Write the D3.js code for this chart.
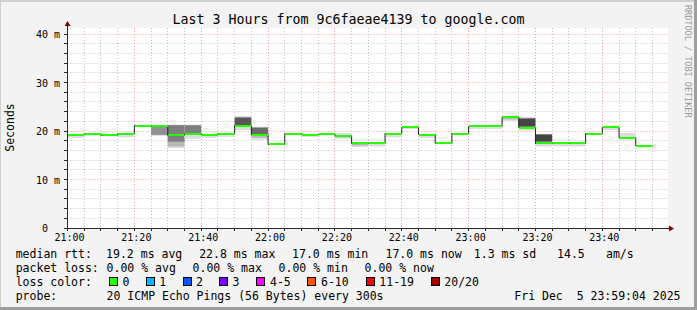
<!DOCTYPE html>
<html>
<head>
<meta charset="utf-8">
<script src="https://cdn.jsdelivr.net/npm/d3@7"></script>
<style>
    body { margin: 0; background: #fff; }
    svg text { font-family: "DejaVu Sans Mono", monospace; white-space: pre; fill: #000; }
</style>
</head>
<body>
<div id="chart"></div>
<script>
// values

const stepTimes = ["21:00", "21:05", "21:10", "21:15", "21:20", "21:25", "21:30", "21:35", "21:40", "21:45",
    "21:50", "21:55", "22:00", "22:05", "22:10", "22:15", "22:20", "22:25", "22:30", "22:35",
    "22:40", "22:45", "22:50", "22:55", "23:00", "23:05", "23:10", "23:15", "23:20", "23:25",
    "23:30", "23:35", "23:40", "23:45", "23:50"];

// median rtt per 5 min step (ms)
const median = [19.2, 19.4, 19.1, 19.4, 21.1, 21.0, 19.1, 19.4, 19.2, 19.4,
    21.1, 19.2, 17.3, 19.4, 19.2, 19.3, 19.0, 17.5, 17.5, 19.4,
    20.8, 19.2, 17.5, 19.4, 21.0, 21.0, 22.8, 20.7, 17.5, 17.5,
    17.5, 19.4, 20.8, 18.6, 17.0];

// smoke per step: [low ms, high ms, ping pair depth 1..10]
const smoke = [
    [[18.6, 19.3, 1]],
    [[19.1, 19.5, 1]],
    [[18.9, 19.2, 1]],
    [[18.7, 19.5, 1]],
    [[20.8, 21.3, 1]],
    [[19.0, 21.2, 1], [19.2, 20.9, 5]],
    [[16.5, 21.3, 1], [16.8, 21.2, 3], [17.8, 21.2, 6]],
    [[18.4, 21.3, 1], [19.5, 21.2, 6]],
    [[18.6, 19.3, 1]],
    [[18.8, 19.5, 1]],
    [[20.2, 23.1, 1], [21.1, 22.8, 8]],
    [[18.2, 20.9, 1], [18.6, 20.7, 3], [19.3, 20.7, 7]],
    [[17.2, 17.4, 1]],
    [[19.3, 19.5, 1]],
    [[18.8, 19.3, 1]],
    [[19.1, 19.5, 1]],
    [[18.4, 19.6, 1], [18.7, 19.2, 3]],
    [[16.7, 17.6, 1], [17.0, 17.5, 3]],
    [[16.8, 17.6, 1]],
    [[18.7, 19.5, 1]],
    [[20.4, 20.9, 1]],
    [[18.6, 19.3, 1]],
    [[17.3, 17.6, 1]],
    [[19.2, 19.5, 1]],
    [[20.4, 21.1, 1]],
    [[20.4, 21.1, 1]],
    [[22.1, 23.2, 1], [22.4, 22.9, 3]],
    [[20.1, 22.9, 1], [20.9, 22.6, 9]],
    [[16.8, 19.4, 1], [17.8, 19.3, 9]],
    [[16.8, 17.6, 1]],
    [[16.8, 17.6, 1]],
    [[19.3, 19.5, 1]],
    [[20.2, 21.1, 1]],
    [[18.3, 19.6, 1]],
    [[16.6, 17.1, 1]]
];

const yTicks = [0, 10, 20, 30, 40];
const xTicks = ["21:00", "21:20", "21:40", "22:00", "22:20", "22:40", "23:00", "23:20", "23:40"];

const rttStats = ["19.2 ms avg", "22.8 ms max", "17.0 ms min", "17.0 ms now", "1.3 ms sd", "14.5", "am/s"];
const lossStats = ["0.00 % avg", "0.00 % max", "0.00 % min", "0.00 % now"];
const lossLabels = ["0", "1", "2", "3", "4-5", "6-10", "11-19", "20/20"];
const lossColors = ["#26ff00", "#00b8ff", "#0059ff", "#7e00ff", "#ff00ff", "#ff5500", "#ff0000", "#a10000"];

const title = "Last 3 Hours from 9c6faeae4139 to google.com";
const probeText = "20 ICMP Echo Pings (56 Bytes) every 300s";
const dateText = "Fri Dec  5 23:59:04 2025";

// layout

const width = 697, height = 310;
const plotLeft = 67.5, plotRight = 667.5, plotTop = 28, plotBottom = 228;
const gridMinor = "rgba(143,143,143,0.55)";
const gridMajor = "rgba(232,90,90,0.6)";
const axisColor = "#2a2a2a";
const arrowColor = "#800000";

const parse = d3.timeParse("%H:%M");
const times = stepTimes.map(parse);
const stepMs = 5 * 60 * 1000;

const x = d3.scaleTime()
    .domain([parse("21:00"), new Date(parse("23:59").getTime() + 30000)])
    .range([plotLeft, plotRight]);

const y = d3.scaleLinear()
    .domain([0, 41.24])
    .range([plotBottom, plotTop]);

const crisp = v => Math.round(v - 0.5) + 0.5;

const svg = d3.select("#chart").append("svg")
    .attr("width", width)
    .attr("height", height);

// background + rrdtool shade border
svg.append("rect").attr("width", width).attr("height", height).attr("fill", "#f3f3f3");
svg.append("rect").attr("x", 0).attr("y", 0).attr("width", width).attr("height", 2).attr("fill", "#cfcfcf");
svg.append("rect").attr("x", 0).attr("y", 0).attr("width", 1).attr("height", height).attr("fill", "#cfcfcf");
svg.append("rect").attr("x", 0).attr("y", height - 3).attr("width", width).attr("height", 3).attr("fill", "#9e9e9e");
svg.append("rect").attr("x", width - 3).attr("y", 0).attr("width", 3).attr("height", height).attr("fill", "#9e9e9e");

// canvas
svg.append("rect")
    .attr("x", 67).attr("y", plotTop)
    .attr("width", 601).attr("height", plotBottom - plotTop)
    .attr("fill", "#fff");

const grid = svg.append("g").attr("class", "grid");

const minorY = y.ticks(20).filter(d => d % 10 !== 0);
grid.selectAll(".hminor")
    .data(minorY)
    .join("line")
    .attr("x1", plotLeft).attr("x2", 668)
    .attr("y1", d => crisp(y(d))).attr("y2", d => crisp(y(d)))
    .attr("stroke", gridMinor).attr("stroke-dasharray", "1,2");

const minorX = d3.timeMinute.every(5).range(parse("21:00"), parse("23:59"))
    .filter(d => d.getMinutes() % 20 !== 0);
grid.selectAll(".vminor")
    .data(minorX)
    .join("line")
    .attr("x1", d => crisp(x(d))).attr("x2", d => crisp(x(d)))
    .attr("y1", plotTop).attr("y2", plotBottom)
    .attr("stroke", gridMinor).attr("stroke-dasharray", "1,2");

grid.selectAll(".hmajor")
    .data(yTicks.filter(d => d > 0))
    .join("line")
    .attr("x1", plotLeft).attr("x2", 668)
    .attr("y1", d => crisp(y(d))).attr("y2", d => crisp(y(d)))
    .attr("stroke", gridMajor).attr("stroke-dasharray", "1,2");

grid.selectAll(".vmajor")
    .data(xTicks.slice(1).map(parse))
    .join("line")
    .attr("x1", d => crisp(x(d))).attr("x2", d => crisp(x(d)))
    .attr("y1", plotTop).attr("y2", plotBottom)
    .attr("stroke", gridMajor).attr("stroke-dasharray", "1,2");

// smoke (smokeping grey ramp: outer pairs light, inner pairs dark)
const shade = depth => {
    const g = Math.round(190 / 10 * (10 - depth)) + 50;
    return d3.rgb(g, g, g).formatHex();
};

const smokeG = svg.append("g").attr("class", "smoke");
times.forEach((t, i) => {
    const x0 = x(t), x1 = x(new Date(t.getTime() + stepMs));
    smokeG.selectAll(null)
        .data(smoke[i])
        .join("rect")
        .attr("x", x0)
        .attr("width", x1 - x0)
        .attr("y", d => y(d[1]))
        .attr("height", d => y(d[0]) - y(d[1]))
        .attr("fill", d => shade(d[2]));
});

// median: dark step line, then loss coloured segments
const stepPoints = times.map((t, i) => [t, median[i]]);
stepPoints.push([new Date(times[times.length - 1].getTime() + stepMs), median[median.length - 1]]);

svg.append("path")
    .datum(stepPoints)
    .attr("fill", "none")
    .attr("stroke", "#202020")
    .attr("stroke-width", 1)
    .attr("d", d3.line()
        .x(d => x(d[0]))
        .y(d => crisp(y(d[1])))
        .curve(d3.curveStepAfter));

svg.append("g")
    .selectAll("line")
    .data(times)
    .join("line")
    .attr("x1", d => x(d) + 0.5)
    .attr("x2", d => x(new Date(d.getTime() + stepMs)))
    .attr("y1", (d, i) => Math.round(y(median[i])))
    .attr("y2", (d, i) => Math.round(y(median[i])))
    .attr("stroke", lossColors[0])
    .attr("stroke-width", 2);

// axes
const xAxis = svg.append("g")
    .attr("transform", `translate(0 ${plotBottom})`)
    .call(d3.axisBottom(x)
        .tickValues(xTicks.map(parse))
        .tickFormat(d3.timeFormat("%H:%M"))
        .tickSize(0));
xAxis.select(".domain").remove();
xAxis.selectAll("text")
    .attr("y", 13).attr("dy", null).attr("dx", 1.5)
    .style("font-size", "10px");

// rrdtool pads the unitless zero so it lines up with the "x m" labels
const yAxis = svg.append("g")
    .attr("transform", `translate(67 0)`)
    .call(d3.axisLeft(y)
        .tickValues(yTicks)
        .tickFormat(d => d === 0 ? "0  " : d + " m")
        .tickSize(0));
yAxis.select(".domain").remove();
yAxis.selectAll("text")
    .attr("x", -7).attr("dy", "0.35em")
    .style("font-size", "10px");

// axis ticks
svg.append("g").selectAll("line")
    .data(y.ticks(20))
    .join("line")
    .attr("x1", 64).attr("x2", 67)
    .attr("y1", d => crisp(y(d))).attr("y2", d => crisp(y(d)))
    .attr("stroke", axisColor);
svg.append("g").selectAll("line")
    .data(d3.timeMinute.every(5).range(parse("21:00"), parse("23:59")))
    .join("line")
    .attr("x1", d => crisp(x(d))).attr("x2", d => crisp(x(d)))
    .attr("y1", plotBottom).attr("y2", plotBottom + 3)
    .attr("stroke", axisColor);

svg.append("line")
    .attr("x1", 67.5).attr("x2", 67.5).attr("y1", plotBottom + 3).attr("y2", 25)
    .attr("stroke", axisColor);
svg.append("line")
    .attr("x1", 64).attr("x2", 669).attr("y1", plotBottom + 0.5).attr("y2", plotBottom + 0.5)
    .attr("stroke", axisColor);
svg.append("path")
    .attr("d", `M64.5,26 L70.5,26 L67.5,21 Z`)
    .attr("fill", arrowColor);
svg.append("path")
    .attr("d", `M669,225.5 L669,231.5 L674,228.5 Z`)
    .attr("fill", arrowColor);

// titles
svg.append("text")
    .attr("x", width / 2).attr("y", 24)
    .attr("text-anchor", "middle")
    .style("font-size", "13.3px")
    .text(title);

svg.append("text")
    .attr("transform", "translate(14 127.5) rotate(-90)")
    .attr("text-anchor", "middle")
    .style("font-size", "11.5px")
    .text("Seconds");

svg.append("text")
    .attr("transform", "translate(685 5) rotate(90)")
    .style("font-size", "8.5px")
    .style("fill", "#9a9a9a")
    .text("RRDTOOL / TOBI OETIKER");

// legend
const legend = svg.append("g").style("font-size", "11.5px");
const lineY = [258, 272, 286, 300];

legend.append("text").attr("x", 15.7).attr("y", lineY[0]).text("median rtt:");
const rttX = [106.1, 199.2, 292.1, 385.5, 473.8, 557.1, 606];
legend.selectAll(".rtt")
    .data(rttStats)
    .join("text")
    .attr("x", (d, i) => rttX[i]).attr("y", lineY[0])
    .text(d => d);

legend.append("text").attr("x", 15.7).attr("y", lineY[1]).text("packet loss:");
const lossX = [106.6, 192.6, 278.6, 364.6];
legend.selectAll(".loss")
    .data(lossStats)
    .join("text")
    .attr("x", (d, i) => lossX[i]).attr("y", lineY[1])
    .text(d => d);

legend.append("text").attr("x", 15.7).attr("y", lineY[2]).text("loss color:");
const swatchX = [108.7, 145.7, 182.7, 219.3, 256, 307.3, 365.7, 430.7];
const swatchTextX = [122.6, 159.3, 196, 232.6, 270, 321, 379.3, 444.3];
legend.selectAll(".swatch")
    .data(lossColors)
    .join("rect")
    .attr("x", (d, i) => Math.round(swatchX[i]) + 0.5)
    .attr("y", lineY[2] - 8.5)
    .attr("width", 8).attr("height", 8)
    .attr("fill", d => d)
    .attr("stroke", "#000");
legend.selectAll(".swatchText")
    .data(lossLabels)
    .join("text")
    .attr("x", (d, i) => swatchTextX[i]).attr("y", lineY[2])
    .text(d => d);

legend.append("text").attr("x", 15.7).attr("y", lineY[3]).text("probe:");
legend.append("text").attr("x", 106.6).attr("y", lineY[3]).text(probeText);
legend.append("text").attr("x", 680.5).attr("y", lineY[3]).attr("text-anchor", "end").text(dateText);
</script>
</body>
</html>
